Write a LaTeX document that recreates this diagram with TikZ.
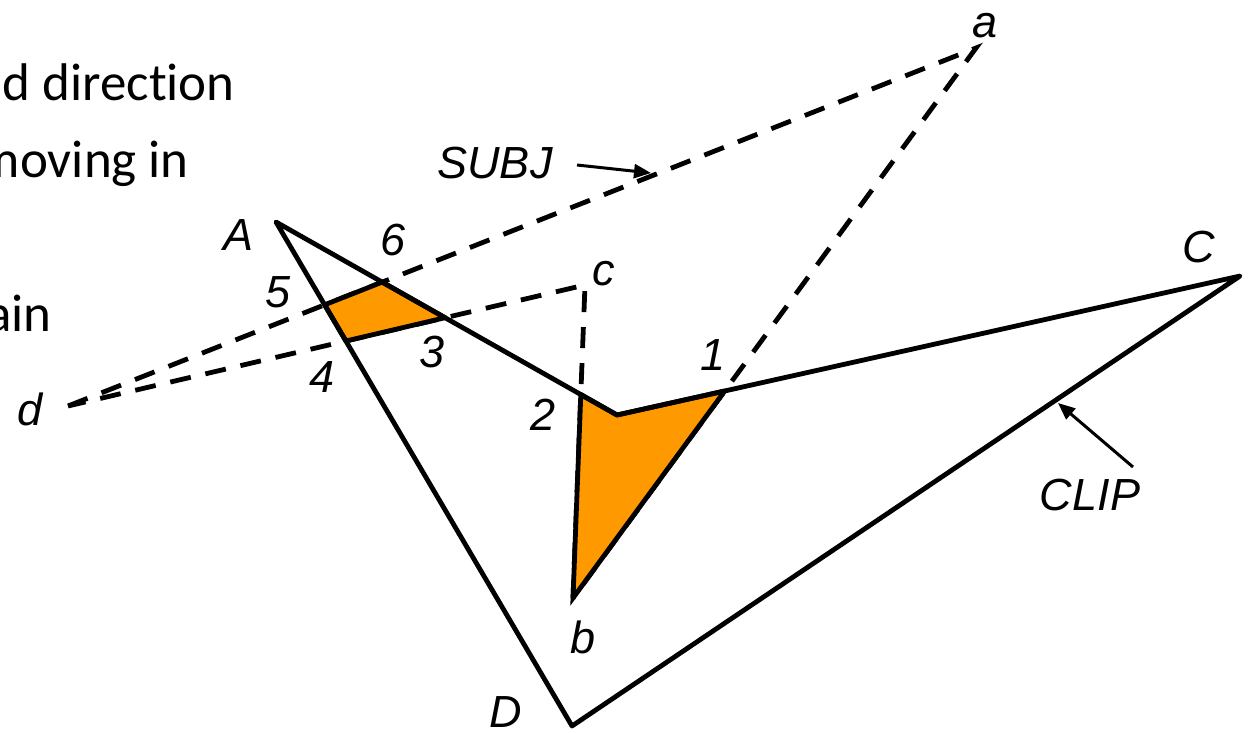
\documentclass[tikz,border=0pt]{standalone}
\usepackage{fontspec}
\setmainfont{Liberation Sans}
\newfontfamily\bodyfont[Ligatures=NoCommon]{Carlito}
\usetikzlibrary{arrows.meta}
\definecolor{orangefill}{RGB}{255,153,0}
\begin{document}
\begin{tikzpicture}[x=1pt,y=-1pt,
  edge/.style={line width=4.8pt, line join=round, line cap=round},
  subj/.style={line width=4.8pt, dash pattern=on 21pt off 15pt},
  region/.style={fill=orangefill},
  regionedge/.style={draw=black, line width=4.8pt, line join=round},
  lbl/.style={font=\fontsize{45}{54}\selectfont\itshape, anchor=base, inner sep=0pt},
  body/.style={font=\bodyfont\fontsize{53}{64}\selectfont, anchor=base east, inner sep=0pt},
  pointer/.style={line width=3pt, -{Triangle[length=17pt,width=14pt]}}
]
\useasboundingbox (0,0) rectangle (1252,732);
% clip polygon vertices
\coordinate (A) at (276,222);
\coordinate (V) at (617,415);
\coordinate (C) at (1240,276);
\coordinate (D) at (572,726);
% subject polygon vertices
\coordinate (a) at (976,48);
\coordinate (b) at (573,598);
\coordinate (c) at (585,285);
\coordinate (d) at (68,406);
% intersection points
\coordinate (p1) at (724.7,391.0);
\coordinate (p2) at (580.8,394.5);
\coordinate (p3) at (445.1,317.7);
\coordinate (p4) at (345.9,341.0);
\coordinate (p5) at (324.6,304.8);
\coordinate (p6) at (382.2,282.1);

% side text (partly cut off)
\node[body] (t1) at (235,100) {d direction};
\node[body] (t2) at (189,177) {moving in};
\node[body] (t3) at (52,331) {ain};

% subject polygon (dashed)
\draw[subj] (d) -- (a) -- (b) -- (c) -- cycle;

% result regions
\fill[region] (p5) -- (p6) -- (p3) -- (p4) -- cycle;
\fill[region] (p2) -- (V) -- (p1) -- (b) -- cycle;

% clip polygon
\draw[edge] (A) -- (V) -- (C) -- (D) -- cycle;

% result outlines
\draw[regionedge] (p5) -- (p6) -- (p3) -- (p4) -- cycle;
\draw[regionedge] (p2) -- (V) -- (p1) -- (b) -- cycle;

% labels
\node[lbl] (la) at (985,37) {a};
\node[lbl] (lA) at (239,250) {A};
\node[lbl] (l5) at (278,307) {5};
\node[lbl] (l6) at (393,255) {6};
\node[lbl] (l3) at (432,367) {3};
\node[lbl] (l4) at (322,392) {4};
\node[lbl] (l2) at (543,430) {2};
\node[lbl] (l1) at (713,370) {1};
\node[lbl] (lc) at (604,285) {c};
\node[lbl] (lC) at (1199,262) {C};
\node[lbl] (ld) at (30,425) {d};
\node[lbl] (lb) at (583,653) {b};
\node[lbl] (lD) at (506,727) {D};
\node[lbl] (lclip) at (1090,510) {CLIP};
\node[lbl] (lsubj) at (495,178) {SUBJ};

% pointers
\coordinate (subjtail) at (577,165);
\coordinate (subjtip) at (651,173);
\coordinate (cliptail) at (1133,467);
\coordinate (cliptip) at (1058,403);
\draw[pointer] (subjtail) -- (subjtip);
\draw[pointer] (cliptail) -- (cliptip);
\end{tikzpicture}
\end{document}
